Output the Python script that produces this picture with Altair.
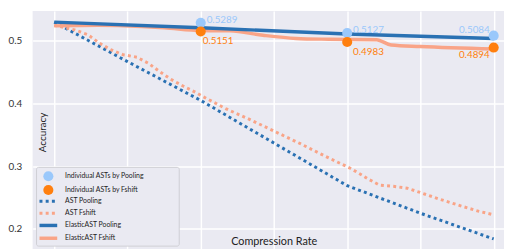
import altair as alt
import pandas as pd

# ---- data ----
ast_pool_x = [0, 1, 2, 3, 4, 5, 6]
ast_pool_y = [0.530, 0.467, 0.405, 0.337, 0.269, 0.225, 0.184]

ast_fshift_x = [0, 0.28, 0.46, 0.61, 0.77, 0.94, 1.13, 1.29, 1.44, 1.59, 1.76, 1.93, 2.01,
                2.34, 2.68, 3.02, 3.36, 3.70, 4.03, 4.2, 4.28, 4.44, 4.63, 4.82, 5.0,
                5.26, 5.53, 5.80, 6.0]
ast_fshift_y = [0.525, 0.5176, 0.510, 0.497, 0.486, 0.478, 0.474, 0.464, 0.451, 0.439, 0.428,
                0.418, 0.4125, 0.392, 0.374, 0.355, 0.336, 0.316, 0.2975, 0.286, 0.280, 0.270,
                0.268, 0.265, 0.258, 0.2475, 0.2375, 0.228, 0.2225]

elastic_pool_x = [0, 2, 4, 6]
elastic_pool_y = [0.530, 0.521, 0.511, 0.504]

elastic_fshift_x = [0, 0.6, 1.2, 1.5, 2, 2.4, 2.85, 3.3, 3.75, 4.4, 4.6, 5, 6]
elastic_fshift_y = [0.524, 0.525, 0.523, 0.521, 0.5165, 0.516, 0.509, 0.504, 0.5027, 0.502,
                    0.4935, 0.491, 0.487]

indiv_x = [2, 4, 6]
indiv_pool_y = [0.5289, 0.5127, 0.5084]
indiv_fshift_y = [0.5151, 0.4983, 0.4894]

legend_labels = ["Individual ASTs by Pooling", "Individual ASTs by Fshift", "AST Pooling",
                 "AST Fshift", "ElasticAST Pooling", "ElasticAST Fshift"]

# ---- styling ----
BLUE = "#2a71b3"
SALMON = "#f9a487"
LIGHTBLUE = "#9ac8fb"
ORANGE = "#ff7f0e"
FONT = "Lato"

XDOM = [-0.2956, 6.141]
YDOM = [0.1678, 0.5479]
W, H = 479, 242

xs = alt.Scale(domain=XDOM, nice=False, zero=False)
ys = alt.Scale(domain=YDOM, nice=False, zero=False)


def line_df(x, y):
    return pd.DataFrame({"x": x, "y": y, "o": list(range(len(x)))})


base_x = alt.X("x:Q", scale=xs,
               axis=alt.Axis(values=list(range(7)), labels=False, ticks=False, tickSize=0,
                             domain=False, grid=True, title="Compression Rate",
                             titleX=245, titleY=-8, titleBaseline="middle",
                             titleFontSize=11, titleFontWeight="normal", titleColor="#222",
                             titleFont=FONT))
base_y = alt.Y("y:Q", scale=ys,
               axis=alt.Axis(values=[0.2, 0.3, 0.4, 0.5], format=".1f", ticks=False,
                             tickSize=0, domain=False, grid=True, labelPadding=11,
                             labelFontSize=10, labelColor="#333", labelFont=FONT,
                             title="Accuracy", titleX=10, titleY=123, titleAngle=270,
                             titleBaseline="middle", titleAlign="center",
                             titleFontSize=10, titleFontWeight="normal", titleColor="#222",
                             titleFont=FONT))

dot_pool = alt.Chart(line_df(ast_pool_x, ast_pool_y)).mark_line(
    color=BLUE, strokeWidth=3, strokeDash=[3, 3.3]).encode(x=base_x, y=base_y, order="o:Q")
dot_fshift = alt.Chart(line_df(ast_fshift_x, ast_fshift_y)).mark_line(
    color=SALMON, strokeWidth=3, strokeDash=[3, 3.3]).encode(
    x=alt.X("x:Q", scale=xs), y=alt.Y("y:Q", scale=ys), order="o:Q")
sol_fshift = alt.Chart(line_df(elastic_fshift_x, elastic_fshift_y)).mark_line(
    color=SALMON, strokeWidth=3.5, interpolate="monotone").encode(
    x=alt.X("x:Q", scale=xs), y=alt.Y("y:Q", scale=ys), order="o:Q")
sol_pool = alt.Chart(line_df(elastic_pool_x, elastic_pool_y)).mark_line(
    color=BLUE, strokeWidth=3.5).encode(
    x=alt.X("x:Q", scale=xs), y=alt.Y("y:Q", scale=ys), order="o:Q")

pts_pool_df = pd.DataFrame({"x": indiv_x, "y": indiv_pool_y,
                            "t": [f"{v:.4f}" for v in indiv_pool_y]})
pts_fs_df = pd.DataFrame({"x": indiv_x, "y": indiv_fshift_y,
                          "t": [f"{v:.4f}" for v in indiv_fshift_y]})

enc = dict(x=alt.X("x:Q", scale=xs), y=alt.Y("y:Q", scale=ys))

p_pool = alt.Chart(pts_pool_df).mark_circle(size=105, color=LIGHTBLUE, opacity=1).encode(**enc)
p_fs = alt.Chart(pts_fs_df).mark_circle(size=105, color=ORANGE, opacity=1).encode(**enc)

t_pool_l = alt.Chart(pts_pool_df).transform_filter("datum.x < 5").mark_text(
    align="left", baseline="middle", dx=6, dy=-3, color=LIGHTBLUE, fontSize=10, font=FONT
).encode(text="t:N", **enc)
t_pool_r = alt.Chart(pts_pool_df).transform_filter("datum.x > 5").mark_text(
    align="right", baseline="middle", dx=-4, dy=-6, color=LIGHTBLUE, fontSize=10, font=FONT
).encode(text="t:N", **enc)
t_fs_1 = alt.Chart(pts_fs_df).transform_filter("datum.x < 3").mark_text(
    align="left", baseline="middle", dx=2, dy=10, color=ORANGE, fontSize=10, font=FONT
).encode(text="t:N", **enc)
t_fs_2 = alt.Chart(pts_fs_df).transform_filter("datum.x > 3 && datum.x < 5").mark_text(
    align="left", baseline="middle", dx=6, dy=10, color=ORANGE, fontSize=10, font=FONT
).encode(text="t:N", **enc)
t_fs_3 = alt.Chart(pts_fs_df).transform_filter("datum.x > 5").mark_text(
    align="right", baseline="middle", dx=-4, dy=8, color=ORANGE, fontSize=10, font=FONT
).encode(text="t:N", **enc)

# ---- manual legend (pixel layout, relative to plot area) ----
row_y = [168, 182, 193.5, 205.5, 218, 231]
leg_df = pd.DataFrame({"label": legend_labels, "py": row_y, "i": list(range(6))})
px = alt.X("px:Q", scale=None)
leg_box = alt.Chart(pd.DataFrame({"a": [0]})).mark_rect(
    fill="#eaeaf2", stroke="#cfcfd4", strokeWidth=1, cornerRadius=2
).encode(x=alt.value(4), x2=alt.value(149), y=alt.value(159), y2=alt.value(239))

leg_text = alt.Chart(leg_df).mark_text(
    align="left", baseline="middle", fontSize=7, font=FONT, color="#222"
).encode(x=alt.value(33), y=alt.Y("py:Q", scale=None), text="label:N")

leg_c1 = alt.Chart(leg_df).transform_filter("datum.i == 0").mark_circle(
    size=105, color=LIGHTBLUE, opacity=1).encode(x=alt.value(16), y=alt.Y("py:Q", scale=None))
leg_c2 = alt.Chart(leg_df).transform_filter("datum.i == 1").mark_circle(
    size=105, color=ORANGE, opacity=1).encode(x=alt.value(16), y=alt.Y("py:Q", scale=None))

def leg_rule(i, color, dash):
    kw = dict(color=color, strokeWidth=3 if dash else 3.5)
    if dash:
        kw["strokeDash"] = [3, 3.3]
    return alt.Chart(leg_df).transform_filter(f"datum.i == {i}").mark_rule(**kw).encode(
        x=alt.value(7), x2=alt.value(25), y=alt.Y("py:Q", scale=None))

leg_r = [leg_rule(2, BLUE, True), leg_rule(3, SALMON, True),
         leg_rule(4, BLUE, False), leg_rule(5, SALMON, False)]

chart = alt.layer(
    dot_pool, dot_fshift, sol_fshift, sol_pool, p_pool, p_fs,
    t_pool_l, t_pool_r, t_fs_1, t_fs_2, t_fs_3,
    leg_box, leg_c1, leg_c2, *leg_r, leg_text
).properties(
    width=W, height=H,
    autosize=alt.AutoSizeParams(type="none"),
    padding={"left": 25, "top": 1, "right": 0, "bottom": 0},
    background="white",
).configure_view(
    fill="#eaeaf2", stroke=None
).configure_axis(
    gridColor="white", gridWidth=1.5
)

chart.save("out.html", embed_options={"renderer": "svg", "actions": False})
